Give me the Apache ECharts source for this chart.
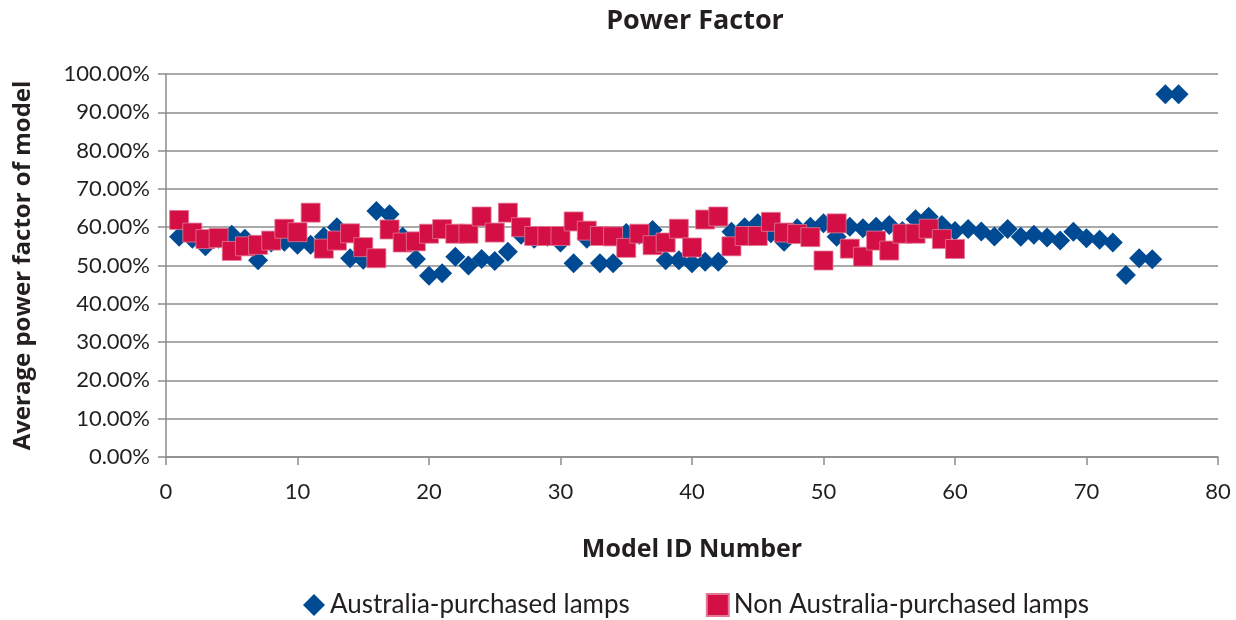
<!DOCTYPE html>
<html>
<head>
<meta charset="utf-8">
<title>Power Factor</title>
<script src="https://cdn.jsdelivr.net/npm/echarts@6/dist/echarts.min.js"></script>
<style>
    html, body { margin: 0; padding: 0; background: #fff; }
    #chart { width: 1236px; height: 620px; }
</style>
</head>
<body>
<div id="chart"></div>
<script>
    // Average power factor (%) per model id, starting at id 1
    var australiaPF = [
        57.5, 57, 55, 57, 58, 57, 51.4, 56, 56.2, 55.4,
        55.4, 57.5, 60, 51.9, 51.5, 64.2, 63.4, 57.5, 51.7, 47.3,
        48, 52.3, 50, 51.7, 51.2, 53.6, 58, 57, 57.5, 56,
        50.6, 57, 50.6, 50.6, 58.5, 58, 59.3, 51.4, 51.4, 50.6,
        51, 51, 58.8, 60, 61, 58.4, 56.2, 59.7, 60.1, 61,
        57.5, 60.1, 59.7, 60.1, 60.6, 59, 62.1, 62.7, 60.6, 59,
        59.5, 58.9, 57.6, 59.5, 57.5, 58, 57.3, 56.5, 58.8, 57.1,
        56.7, 56, 47.5, 51.9, 51.6, 94.7, 94.7
    ];
    var nonAustraliaPF = [
        61.9, 58.6, 56.9, 57.2, 53.8, 55, 55.4, 56.5, 59.6, 58.7,
        63.8, 54.4, 56.5, 58.4, 54.8, 51.9, 59.4, 56, 56.3, 58.3,
        59.5, 58.3, 58.3, 62.8, 58.6, 63.8, 60, 57.7, 57.7, 57.7,
        61.5, 59.1, 57.7, 57.6, 54.6, 58.3, 55.3, 56, 59.6, 54.7,
        62, 62.8, 55, 57.7, 57.7, 61.4, 58.6, 58.2, 57.4, 51.3,
        61, 54.4, 52.3, 56.5, 53.9, 58.3, 58.3, 59.6, 56.9, 54.3
    ];
    var seriesNames = ['Australia-purchased lamps', 'Non Australia-purchased lamps'];

    function toPoints(values) {
        return values.map(function (v, i) { return [i + 1, v]; });
    }

    var font = 'Lato, "Open Sans", sans-serif';
    var boldFont = '"Open Sans", Lato, sans-serif';
    var chart = echarts.init(document.getElementById('chart'));
    chart.setOption({
        animation: false,
        title: {
            text: 'Power Factor',
            left: 690,
            top: 3,
            textAlign: 'center',
            textStyle: { fontFamily: boldFont, fontSize: 27, fontWeight: 'bold', color: '#231f20' }
        },
        grid: { left: 166, right: 18, top: 74, bottom: 163 },
        legend: {
            top: 587,
            left: 298,
            itemWidth: 22,
            itemHeight: 22,
            itemGap: 76,
            textStyle: { fontFamily: font, fontSize: 26, color: '#231f20' },
            data: [
                { name: seriesNames[0], icon: 'diamond' },
                { name: seriesNames[1], icon: 'rect' }
            ]
        },
        xAxis: {
            type: 'value',
            min: 0,
            max: 80,
            interval: 10,
            name: 'Model ID Number',
            nameLocation: 'middle',
            nameGap: 80,
            nameTextStyle: { fontFamily: boldFont, fontSize: 25, fontWeight: 'bold', color: '#231f20' },
            axisLine: { lineStyle: { color: '#8c8c8c', width: 1.5 } },
            axisTick: { show: true, length: 8, lineStyle: { color: '#8c8c8c', width: 1.5 } },
            axisLabel: { fontFamily: font, fontSize: 22, color: '#231f20', margin: 24 },
            splitLine: { show: false }
        },
        yAxis: {
            type: 'value',
            min: 0,
            max: 100,
            interval: 10,
            name: 'Average power factor of model',
            nameLocation: 'middle',
            nameGap: 131,
            nameTextStyle: { fontFamily: boldFont, fontSize: 24, fontWeight: 'bold', color: '#231f20' },
            axisLine: { show: true, lineStyle: { color: '#8c8c8c', width: 1.5 } },
            axisTick: { show: true, length: 8, lineStyle: { color: '#8c8c8c', width: 1.5 } },
            axisLabel: {
                fontFamily: font, fontSize: 22, color: '#231f20', margin: 16,
                formatter: function (v) { return v.toFixed(2) + '%'; }
            },
            splitLine: { lineStyle: { color: '#8c8c8c', width: 1.5 } }
        },
        series: [
            {
                name: seriesNames[0],
                type: 'scatter',
                symbol: 'diamond',
                symbolSize: 20,
                itemStyle: { color: '#004a93', opacity: 1 },
                data: toPoints(australiaPF)
            },
            {
                name: seriesNames[1],
                type: 'scatter',
                symbol: 'rect',
                symbolSize: 19,
                itemStyle: { color: '#d40f45', opacity: 1, borderColor: '#e27a95', borderWidth: 0.8 },
                data: toPoints(nonAustraliaPF)
            }
        ]
    });
</script>
</body>
</html>
